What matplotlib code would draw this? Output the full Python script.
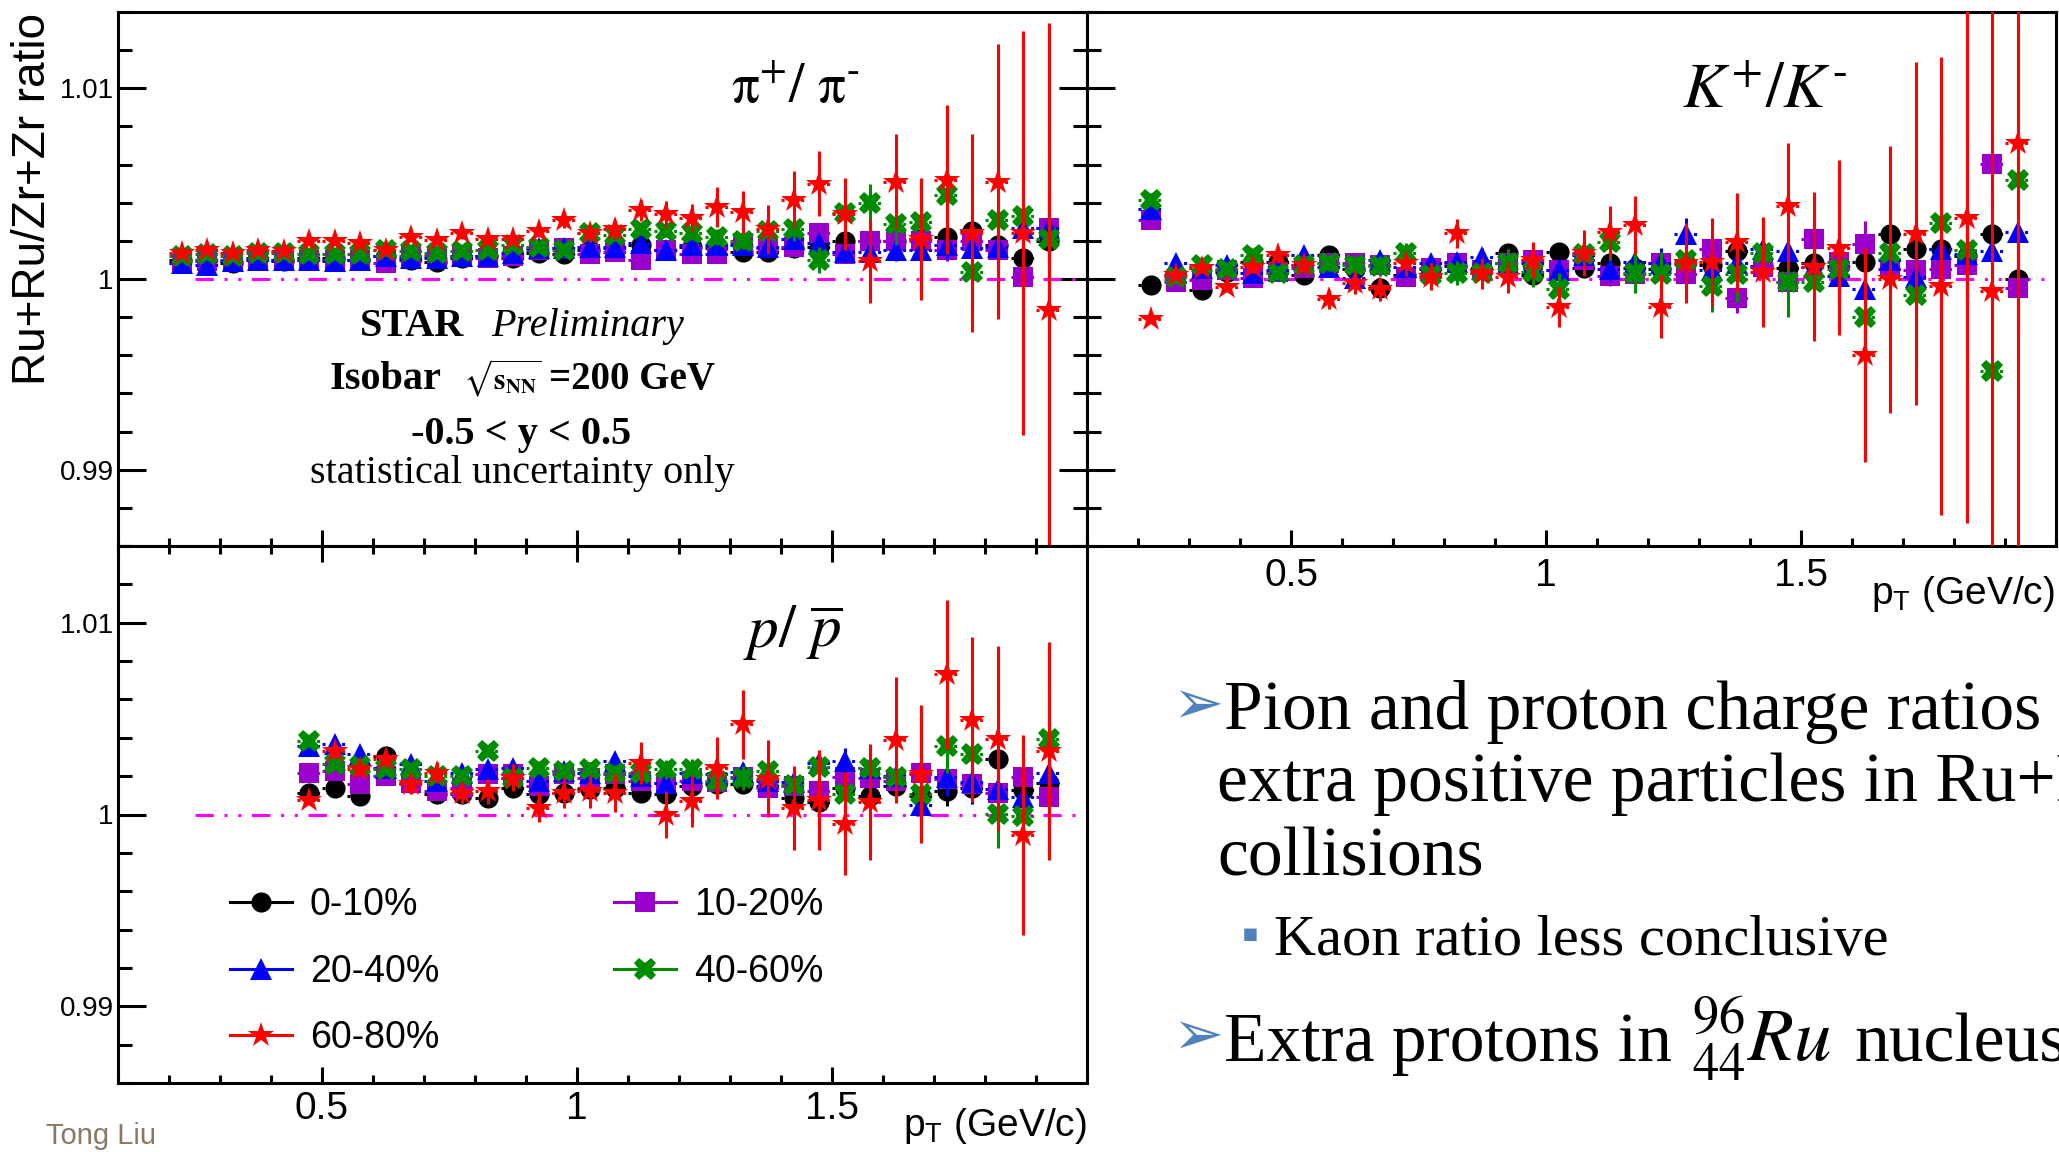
import numpy as np
import matplotlib
matplotlib.use('Agg')
import matplotlib.pyplot as plt
from matplotlib.lines import Line2D
from matplotlib import ticker

plt.rcParams['font.family'] = ['Liberation Sans', 'DejaVu Sans']
plt.rcParams['mathtext.fontset'] = 'stix'

W, H = 2059, 1152
SERIF = ['Liberation Serif', 'DejaVu Serif']

# pT bin centres (GeV/c)
pt_pik = [0.225, 0.275, 0.325, 0.375, 0.425, 0.475, 0.525, 0.575, 0.625, 0.675,
          0.725, 0.775, 0.825, 0.875, 0.925, 0.975, 1.025, 1.075, 1.125, 1.175,
          1.225, 1.275, 1.325, 1.375, 1.425, 1.475, 1.525, 1.575, 1.625, 1.675,
          1.725, 1.775, 1.825, 1.875, 1.925]
pt_p = [0.475, 0.525, 0.575, 0.625, 0.675, 0.725, 0.775, 0.825, 0.875, 0.925,
        0.975, 1.025, 1.075, 1.125, 1.175, 1.225, 1.275, 1.325, 1.375, 1.425,
        1.475, 1.525, 1.575, 1.625, 1.675, 1.725, 1.775, 1.825, 1.875, 1.925]
bin_half = 0.025   # half bin width, drawn as dotted x-error

cent_labels = ['0-10%', '10-20%', '20-40%', '40-60%', '60-80%']
colors = ['#000000', '#9900cc', '#0000ff', '#008c00', '#ff0000']
markers = ['o', 's', '^', 'X', '*']
msizes = [14.5, 15, 16, 16, 19]

# all ratios stored as (ratio - 1) in units of 1e-3
# pi+/pi-
pi_0010 = [1.0, 1.0, 0.84, 1.1, 0.92, 1.1, 1.1, 1.0, 1.2, 1.0, 0.9, 1.1, 1.2, 1.1, 1.36, 1.3, 1.5, 1.6,
           1.8, 1.5, 1.7, 1.6, 1.4, 1.4, 1.6, 1.7, 2.0, 2.0, 2.0, 2.1, 2.2, 2.5, 1.8, 1.1, 2.0]
pi_1020 = [0.84, 0.92, 1.0, 1.0, 1.0, 1.0, 1.0, 1.0, 0.84, 1.18, 1.18, 1.2, 1.1, 1.2, 1.5, 1.6, 1.3, 1.4,
           1.0, 1.5, 1.3, 1.3, 1.9, 1.6, 1.7, 2.4, 1.3, 2.0, 2.0, 2.0, 1.5, 2.0, 1.5, 0.1, 2.7]
pi_2040 = [0.84, 0.75, 0.92, 1.0, 1.0, 1.0, 0.92, 1.0, 1.18, 1.1, 1.1, 1.2, 1.2, 1.36, 1.6, 1.6, 1.7, 1.7,
           1.9, 1.5, 1.8, 1.8, 1.8, 1.7, 2.1, 1.9, 1.4, 1.4, 1.5, 1.5, 1.8, 1.6, 1.7, 2.7, 2.7]
pi_4060 = [1.2, 1.3, 1.2, 1.36, 1.36, 1.3, 1.3, 1.3, 1.5, 1.45, 1.36, 1.45, 1.5, 1.8, 1.7, 1.5, 2.4, 2.3,
           2.6, 2.5, 2.4, 2.2, 2.0, 2.5, 2.6, 1.0, 3.45, 4.0, 2.9, 3.0, 4.4, 0.35, 3.1, 3.3, 2.1]
pi_6080 = [1.36, 1.53, 1.36, 1.53, 1.45, 1.97, 1.97, 1.88, 1.53, 2.2, 2.06, 2.4, 2.1, 2.1, 2.5, 3.1, 2.4, 2.6,
           3.6, 3.4, 3.2, 3.8, 3.5, 2.6, 4.15, 5.0, 3.4, 0.95, 5.1, 2.1, 5.2, 2.4, 5.1, 2.4, -1.6]
pi_e0010 = [0.05, 0.05, 0.05, 0.05, 0.05, 0.05, 0.05, 0.05, 0.06, 0.06, 0.06, 0.07, 0.07, 0.08, 0.08, 0.09, 0.1, 0.1,
            0.12, 0.13, 0.14, 0.16, 0.18, 0.2, 0.22, 0.25, 0.28, 0.32, 0.36, 0.42, 0.5, 0.6, 0.75, 0.95, 1.2]
pi_e1020 = [0.05, 0.05, 0.05, 0.05, 0.05, 0.06, 0.06, 0.06, 0.06, 0.07, 0.07, 0.08, 0.08, 0.09, 0.09, 0.1, 0.11, 0.12,
            0.13, 0.14, 0.16, 0.18, 0.2, 0.22, 0.25, 0.28, 0.31, 0.35, 0.4, 0.47, 0.55, 0.66, 0.83, 1.05, 1.3]
pi_e2040 = [0.07, 0.07, 0.07, 0.07, 0.07, 0.08, 0.08, 0.08, 0.09, 0.09, 0.1, 0.1, 0.11, 0.12, 0.13, 0.14, 0.15, 0.16,
            0.18, 0.2, 0.22, 0.24, 0.27, 0.3, 0.34, 0.38, 0.43, 0.5, 0.56, 0.65, 0.77, 0.92, 1.15, 1.45, 1.8]
pi_e4060 = [0.1, 0.1, 0.1, 0.1, 0.1, 0.1, 0.11, 0.11, 0.12, 0.12, 0.13, 0.14, 0.15, 0.16, 0.18, 0.2, 0.22, 0.25,
            0.28, 0.31, 0.35, 0.4, 0.45, 0.5, 0.6, 0.7, 0.8, 1.0, 1.1, 1.3, 1.6, 2.0, 2.8, 3.9, 4.6]
pi_e6080 = [0.15, 0.15, 0.15, 0.15, 0.15, 0.2, 0.2, 0.2, 0.2, 0.2, 0.3, 0.3, 0.3, 0.3, 0.3, 0.4, 0.45, 0.5,
            0.55, 0.7, 0.75, 1.05, 1.1, 1.3, 1.5, 1.7, 1.9, 2.2, 2.5, 3.2, 3.9, 5.2, 7.2, 10.6, 15.0]

# K+/K-
k_0010 = [-0.3, 0.2, -0.57, 0.38, 0.9, 0.9, 0.2, 1.25, 0.5, -0.49, 0.2, 0.5, 0.7, 0.5, 1.34, 0.2, 1.4, 0.6,
          0.82, 0.6, 0.5, 0.8, 0.73, 1.46, 0.7, 0.6, 0.82, 0.7, 0.91, 2.38, 1.55, 1.55, 1.2, 2.38, 0.0]
k_1020 = [3.08, -0.14, -0.05, 0.47, 0.03, 0.38, 0.56, 0.82, 0.82, 0.73, 0.12, 0.56, 0.82, 0.47, 0.82, 0.99, 0.46, 1.0,
          0.18, 0.27, 0.82, 0.27, 1.55, -1.0, 0.64, -0.18, 2.1, 0.91, 1.83, 0.55, 0.46, 0.55, 0.73, 6.03, -0.46]
k_2040 = [3.69, 0.82, 0.56, 0.73, 0.3, 0.47, 1.25, 0.64, 0.03, 0.99, 0.64, 0.82, 0.9, 1.17, 0.82, 0.82, 0.46, 1.28,
          0.55, 0.91, 0.82, 2.38, 0.46, 0.82, 1.55, 1.46, 0.64, 0.18, -0.55, 1.0, 0.09, 1.55, 1.3, 1.46, 2.47]
k_4060 = [4.16, 0.12, 0.73, 0.5, 1.25, 0.3, 0.73, 0.85, 0.73, 0.68, 1.34, 0.21, 0.33, 0.33, 0.85, 0.38, -0.5, 1.3,
          1.96, 0.31, 0.27, 1.0, -0.37, 0.27, 1.37, -0.18, -0.18, 0.55, -2.0, 1.37, -0.82, 2.93, 1.52, -4.8, 5.2]
k_6080 = [-2.09, 0.21, 0.56, -0.4, 0.64, 1.25, 0.73, -1.06, -0.23, -0.54, 0.82, 0.12, 2.39, 0.3, 0.12, 0.99, -1.46, 1.37,
          2.47, 2.83, -1.46, 0.82, 0.91, 1.92, 0.37, 3.84, 0.64, 1.65, -4.0, 0.0, 2.38, -0.37, 3.2, -0.64, 7.13]
k_e0010 = [0.2, 0.2, 0.2, 0.2, 0.2, 0.2, 0.22, 0.24, 0.26, 0.28, 0.3, 0.32, 0.34, 0.36, 0.38, 0.4, 0.43, 0.46,
           0.5, 0.54, 0.58, 0.62, 0.67, 0.72, 0.78, 0.85, 0.92, 1.0, 1.1, 1.25, 1.4, 1.6, 1.85, 2.1, 2.4]
k_e1020 = [0.2, 0.2, 0.2, 0.2, 0.2, 0.22, 0.24, 0.26, 0.28, 0.3, 0.32, 0.34, 0.36, 0.38, 0.4, 0.43, 0.46, 0.5,
           0.54, 0.58, 0.62, 0.67, 0.72, 0.78, 0.85, 0.92, 1.0, 1.1, 1.2, 1.35, 1.5, 1.7, 1.95, 2.2, 2.5]
k_e2040 = [0.25, 0.25, 0.25, 0.25, 0.25, 0.27, 0.29, 0.31, 0.33, 0.35, 0.38, 0.41, 0.44, 0.47, 0.5, 0.54, 0.58, 0.62,
           0.67, 0.72, 0.78, 0.84, 0.9, 0.97, 1.05, 1.14, 1.24, 1.35, 1.5, 1.65, 1.85, 2.1, 2.4, 2.7, 3.1]
k_e4060 = [0.35, 0.35, 0.35, 0.35, 0.35, 0.37, 0.4, 0.43, 0.46, 0.5, 0.54, 0.58, 0.62, 0.67, 0.72, 0.78, 0.84, 0.9,
           0.97, 1.05, 1.14, 1.24, 1.35, 1.5, 1.65, 1.8, 2.0, 2.3, 2.7, 3.2, 3.8, 4.6, 5.6, 6.8, 8.0]
k_e6080 = [0.15, 0.2, 0.25, 0.3, 0.35, 0.4, 0.45, 0.5, 0.55, 0.6, 0.65, 0.7, 0.75, 0.8, 0.85, 0.95, 1.05, 1.2,
           1.35, 1.5, 1.65, 2.1, 2.3, 2.6, 2.9, 3.3, 3.9, 4.6, 5.6, 7.0, 9.0, 12.0, 16.0, 20.0, 22.0]

# p/pbar
p_0010 = [1.13, 1.39, 0.96, 3.05, 1.66, 1.05, 1.05, 0.87, 1.39, 1.05, 1.13, 1.31, 1.4, 1.13, 1.05,
          1.5, 1.6, 1.6, 1.5, 0.84, 0.65, 1.4, 0.97, 1.5, 0.97, 1.21, 1.4, 2.89, 1.3, 1.64]
p_1020 = [2.18, 2.26, 1.57, 2.0, 1.66, 1.22, 1.39, 2.09, 2.09, 1.48, 2.09, 1.92, 2.09, 1.74, 1.66,
          1.74, 1.68, 1.96, 1.4, 1.49, 1.21, 1.96, 1.9, 1.77, 2.15, 1.87, 1.59, 1.12, 1.96, 0.93]
p_2040 = [3.57, 3.66, 3.14, 2.44, 2.61, 1.74, 2.18, 2.35, 2.44, 1.74, 2.26, 2.18, 2.79, 2.0, 1.66,
          2.18, 2.09, 2.24, 1.77, 1.68, 2.7, 2.8, 2.43, 2.0, 0.47, 1.96, 1.68, 1.31, 0.93, 2.15]
p_4060 = [3.83, 2.61, 2.53, 2.35, 2.35, 2.0, 2.0, 3.31, 1.92, 2.44, 2.26, 2.35, 2.18, 2.18, 2.35,
          2.35, 1.77, 1.9, 2.28, 1.53, 2.46, 1.08, 2.43, 1.96, 1.08, 3.58, 3.13, 0.04, -0.09, 3.92]
p_6080 = [0.78, 3.31, 2.35, 2.87, 1.57, 2.18, 1.13, 1.22, 1.92, 0.35, 1.13, 1.22, 1.13, 2.7, 0.0,
          0.7, 2.43, 4.7, 1.87, 0.34, 0.75, -0.47, 0.65, 3.88, 2.09, 7.3, 4.94, 3.96, -1.08, 3.32]
p_e0010 = [0.12, 0.12, 0.13, 0.13, 0.14, 0.15, 0.16, 0.17, 0.18, 0.19, 0.2, 0.22, 0.24, 0.26, 0.28,
           0.3, 0.33, 0.36, 0.4, 0.44, 0.48, 0.53, 0.58, 0.64, 0.7, 0.77, 0.85, 0.94, 1.04, 1.15]
p_e1020 = [0.13, 0.13, 0.14, 0.14, 0.15, 0.16, 0.17, 0.18, 0.19, 0.2, 0.21, 0.23, 0.25, 0.27, 0.29,
           0.32, 0.35, 0.38, 0.42, 0.46, 0.5, 0.56, 0.61, 0.67, 0.74, 0.81, 0.89, 0.99, 1.09, 1.2]
p_e2040 = [0.16, 0.16, 0.17, 0.17, 0.18, 0.2, 0.21, 0.22, 0.23, 0.25, 0.26, 0.29, 0.31, 0.34, 0.36,
           0.39, 0.43, 0.47, 0.52, 0.57, 0.62, 0.69, 0.75, 0.83, 0.91, 1.0, 1.1, 1.22, 1.35, 1.5]
p_e4060 = [0.2, 0.21, 0.22, 0.23, 0.24, 0.26, 0.28, 0.3, 0.32, 0.34, 0.36, 0.39, 0.42, 0.45, 0.49,
           0.53, 0.58, 0.63, 0.69, 0.76, 0.84, 0.93, 1.03, 1.14, 1.27, 1.42, 1.6, 1.8, 2.1, 2.5]
p_e6080 = [0.3, 0.35, 0.4, 0.45, 0.5, 0.55, 0.6, 0.65, 0.7, 0.75, 0.8, 0.9, 1.0, 1.1, 1.2,
           1.35, 1.6, 1.8, 2.0, 2.2, 2.6, 2.7, 3.0, 3.3, 3.6, 3.9, 4.3, 4.8, 5.2, 5.7]

ref_x = [0.25, 2.0]   # dash-dotted unity line


def ftext(x, y, s, **kw):
    # place text using pixel coords of the 2059x1152 canvas (origin top-left)
    return fig.text(x / W, 1 - y / H, s, **kw)


def draw_panel(ax, pt, vals, errs):
    ax.plot(ref_x, [1, 1], color='#ff00ff', lw=2.2, ls=(0, (6, 3.5, 1, 3.5, 1, 3.5)), zorder=2)
    for i in range(5):
        y = 1 + np.array(vals[i]) / 1000.0
        e = np.array(errs[i]) / 1000.0
        z = 3 + i
        xe = ax.errorbar(pt, y, xerr=bin_half, fmt='none', ecolor=colors[i], elinewidth=2.2, zorder=z)
        xe[2][0].set_linestyle((0, (1, 2.2)))
        ax.errorbar(pt, y, yerr=e, fmt='none', ecolor=colors[i], elinewidth=2.2, capsize=0, zorder=z)
        ax.plot(pt, y, ls='none', marker=markers[i], ms=msizes[i], mew=0, color=colors[i], zorder=z + 0.5)
    ax.set_xlim(0.1, 2.0)
    ax.set_ylim(0.986, 1.014)
    ax.xaxis.set_major_locator(ticker.FixedLocator([0.5, 1.0, 1.5]))
    ax.xaxis.set_major_formatter(ticker.FormatStrFormatter('%g'))
    ax.xaxis.set_minor_locator(ticker.MultipleLocator(0.1))
    ax.yaxis.set_major_locator(ticker.FixedLocator([0.99, 1.0, 1.01]))
    ax.yaxis.set_major_formatter(ticker.FormatStrFormatter('%g'))
    ax.yaxis.set_minor_locator(ticker.MultipleLocator(0.002))
    ax.tick_params(which='both', direction='in', width=2.2, top=False, right=False)
    ax.tick_params(axis='y', which='major', length=20)
    ax.tick_params(axis='y', which='minor', length=10)
    ax.tick_params(axis='x', which='major', length=11.5)
    ax.tick_params(axis='x', which='minor', length=5.5)
    ax.tick_params(axis='y', labelsize=20, pad=3)
    ax.tick_params(axis='x', labelsize=28)
    for s in ax.spines.values():
        s.set_linewidth(2.2)


fig = plt.figure(figsize=(W / 100, H / 100), dpi=100)

ax_pi = fig.add_axes([118 / W, 1 - 546 / H, 969 / W, 534 / H])
ax_k = fig.add_axes([1087 / W, 1 - 546 / H, 969 / W, 534 / H])
ax_p = fig.add_axes([118 / W, 1 - 1083 / H, 969 / W, 537 / H])

draw_panel(ax_pi, pt_pik, [pi_0010, pi_1020, pi_2040, pi_4060, pi_6080],
           [pi_e0010, pi_e1020, pi_e2040, pi_e4060, pi_e6080])
draw_panel(ax_k, pt_pik, [k_0010, k_1020, k_2040, k_4060, k_6080],
           [k_e0010, k_e1020, k_e2040, k_e4060, k_e6080])
draw_panel(ax_p, pt_p, [p_0010, p_1020, p_2040, p_4060, p_6080],
           [p_e0010, p_e1020, p_e2040, p_e4060, p_e6080])

ax_pi.tick_params(axis='x', labelbottom=False)
ax_pi.tick_params(axis='y', which='both', right=True)
ax_k.tick_params(axis='y', labelleft=False)
ax_k.tick_params(axis='x', pad=8.5)
ax_p.tick_params(axis='x', which='both', top=True, pad=5.5)

# axis titles
ftext(33, 13, 'Ru+Ru/Zr+Zr ratio', rotation=90, ha='center', va='top', fontsize=33)
ftext(2055, 604, r'$\mathregular{p_{T}}$ (GeV/c)', ha='right', va='baseline', fontsize=28)
ftext(1087, 1136, r'$\mathregular{p_{T}}$ (GeV/c)', ha='right', va='baseline', fontsize=28)

# panel labels
ftext(795, 89, '$\\mathrm{\\pi}^{+}/\\ \\mathrm{\\pi}^{\u2010}$', fontsize=40, ha='center', va='center')
ftext(1765, 91, '$K^{+}/K^{\u2010}$', fontsize=46, ha='center', va='center')
ftext(793, 633, r'$p/\ \overline{p}$', fontsize=44, ha='center', va='center')

# STAR preliminary block
ftext(360, 336, 'STAR', family=SERIF, weight='bold', fontsize=29, va='baseline')
ftext(491, 336, 'Preliminary', family=SERIF, style='italic', fontsize=29, va='baseline')
ftext(330, 389, 'Isobar', family=SERIF, weight='bold', fontsize=29, va='baseline')
ftext(463, 389, r'$\sqrt{\mathbf{s}_{\mathbf{NN}}}$', fontsize=21, va='baseline')
ftext(549, 389, '=200 GeV', family=SERIF, weight='bold', fontsize=28, va='baseline')
ftext(521, 444, '-0.5 < y < 0.5', family=SERIF, weight='bold', fontsize=29, ha='center', va='baseline')
ftext(522, 483, 'statistical uncertainty only', family=SERIF, fontsize=29, ha='center', va='baseline')

# legend
handles = [Line2D([], [], color=colors[i], lw=2.2, marker=markers[i], ms=msizes[i], mew=0)
           for i in range(5)]
order = [0, 2, 4, 1, 3]
ax_p.legend([handles[i] for i in order], [cent_labels[i] for i in order], ncol=2, frameon=False,
            loc='center left', bbox_to_anchor=(0.1156, 0.207), borderpad=0, borderaxespad=0,
            fontsize=27, handlelength=1.65, handletextpad=0.48, columnspacing=4.67, labelspacing=0.81)

# slide text on the right
blue = '#4f81bd'
ftext(1172, 706, '\u27a2', color=blue, fontsize=44, family=['DejaVu Sans'], va='center')
ftext(1224, 729, 'Pion and proton charge ratios', family=SERIF, fontsize=50, va='baseline')
ftext(1217, 801, 'extra positive particles in Ru+Ru', family=SERIF, fontsize=50, va='baseline')
ftext(1217, 876, 'collisions', family=SERIF, fontsize=50, va='baseline')
ftext(1242, 934, '\u25aa', color=blue, fontsize=18, family=['DejaVu Sans'], va='center')
ftext(1274, 955, 'Kaon ratio less conclusive', family=SERIF, fontsize=42, va='baseline')
ftext(1172, 1037, '\u27a2', color=blue, fontsize=44, family=['DejaVu Sans'], va='center')
ftext(1224, 1061, 'Extra protons in', family=SERIF, fontsize=50, va='baseline')
ftext(1691, 1061, r'${}^{96}_{44}Ru$', fontsize=54, va='baseline')
ftext(1854, 1061, 'nucleus', family=SERIF, fontsize=50, va='baseline')

ftext(46, 1136, 'Tong Liu', color='#8b7765', fontsize=21, va='center')

fig.savefig('out.png', dpi=100)
